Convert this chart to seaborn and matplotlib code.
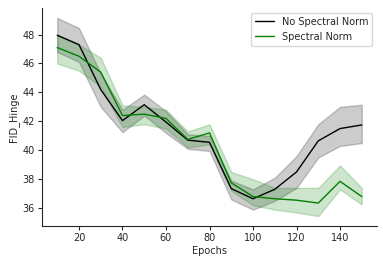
import numpy as np
import pandas as pd
from matplotlib import pyplot as plt
import seaborn as sns

# epochs y valores (media, limite bajo, limite alto)
epochs = [10, 20, 30, 40, 50, 60, 70, 80, 90, 100, 110, 120, 130, 140, 150]

no_sn_mid = [47.95, 47.3, 44.2, 42.05, 43.15, 41.95, 40.7, 40.55, 37.35, 36.65, 37.3, 38.5, 40.65, 41.5, 41.75]
no_sn_low = [46.8, 46.1, 43.0, 41.25, 42.4, 41.2, 40.1, 39.95, 36.6, 35.9, 36.5, 37.4, 39.5, 40.3, 40.5]
no_sn_high = [49.15, 48.45, 45.3, 42.8, 43.85, 42.7, 41.1, 41.0, 37.9, 37.3, 38.1, 39.6, 41.8, 43.0, 43.15]

sn_mid = [47.1, 46.5, 45.4, 42.4, 42.5, 42.2, 40.75, 41.2, 37.75, 36.8, 36.65, 36.55, 36.35, 37.85, 36.8]
sn_low = [46.0, 45.5, 44.4, 41.6, 41.8, 41.5, 40.2, 40.4, 37.2, 36.2, 35.9, 35.7, 35.45, 37.3, 36.25]
sn_high = [48.0, 47.3, 46.4, 43.1, 43.0, 42.8, 41.3, 41.8, 38.5, 38.0, 37.4, 37.4, 37.4, 38.95, 37.4]

series = {
    'No Spectral Norm': (no_sn_low, no_sn_mid, no_sn_high),
    'Spectral Norm': (sn_low, sn_mid, sn_high),
}

# armamos un dataframe largo: tres filas por epoch, la mediana es la linea y min-max la banda
rows = []
for name, (lo, mid, hi) in series.items():
    for i, e in enumerate(epochs):
        for v in (lo[i], mid[i], hi[i]):
            rows.append({'Epochs': e, 'FID_Hinge': v, 'run': name})
df = pd.DataFrame(rows)

sns.set_style('ticks')
plt.rcParams['font.family'] = ['DejaVu Sans']
plt.rcParams['font.size'] = 7

fig, ax = plt.subplots(figsize=(3.83, 2.63), dpi=100)
sns.lineplot(data=df, x='Epochs', y='FID_Hinge', hue='run',
             estimator='median', errorbar=('pi', 100),
             palette={'No Spectral Norm': 'black', 'Spectral Norm': 'green'},
             linewidth=1.0, ax=ax)
sns.despine()
ax.tick_params(labelsize=7, length=3, pad=2)
ax.set_xlabel('Epochs', fontsize=7, labelpad=2)
ax.set_ylabel('FID_Hinge', fontsize=7, labelpad=3)
ax.set_xticks([20, 40, 60, 80, 100, 120, 140])
ax.set_yticks([36, 38, 40, 42, 44, 46, 48])
ax.legend(title=None, loc='upper right', fontsize=7)

fig.subplots_adjust(left=42 / 383, right=377 / 383, top=1 - 8 / 263, bottom=1 - 226 / 263)
plt.savefig('out.png', dpi=100)
